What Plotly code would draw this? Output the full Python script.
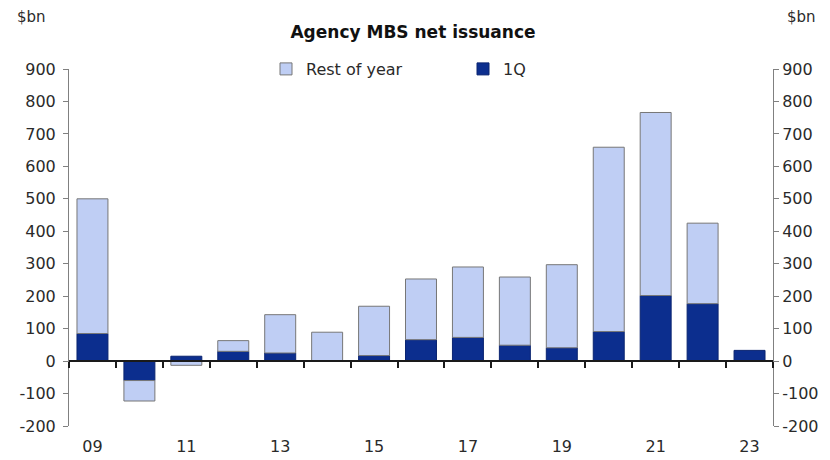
import plotly.graph_objects as go

years = ["09", "10", "11", "12", "13", "14", "15", "16", "17", "18", "19", "20", "21", "22", "23"]
q1 = [85, -60, 15, 30, 25, 0, 17, 66, 73, 49, 41, 91, 202, 177, 33]
rest = [415, -63, -13, 33, 118, 89, 152, 187, 217, 210, 256, 568, 564, 248, None]
ytick_vals = [-200, -100, 0, 100, 200, 300, 400, 500, 600, 700, 800, 900]
ytick_text = [str(v) for v in ytick_vals]
label_years = years[::2]

idx = list(range(len(years)))
y_min, y_max = -200, 900

FONT = "DejaVu Sans"
DARK = "#0C2E8E"
LIGHT = "#BFCEF4"
TXT = "#2a2a2a"

fig = go.Figure()
fig.add_trace(go.Bar(x=idx, y=q1, name="1Q", marker=dict(color=DARK, line=dict(color="#0a2470", width=1)),
                     hoverinfo="skip"))
fig.add_trace(go.Bar(x=idx, y=rest, name="Rest of year",
                     marker=dict(color=LIGHT, line=dict(color="#777777", width=1)), hoverinfo="skip"))
# helper trace to attach the zero-line axis
fig.add_trace(go.Scatter(x=idx, y=[0] * len(idx), xaxis="x2", mode="lines", line=dict(width=0),
                         opacity=0, showlegend=False, hoverinfo="skip"))
# helper trace for the right axis
fig.add_trace(go.Scatter(x=idx, y=[0] * len(idx), yaxis="y2", mode="lines", line=dict(width=0),
                         opacity=0, showlegend=False, hoverinfo="skip"))

boundaries = [i - 0.5 for i in idx] + [idx[-1] + 0.5]
xr = [idx[0] - 0.5, idx[-1] + 0.5]

fig.update_layout(
    width=830, height=460,
    margin=dict(l=69, r=57, t=69, b=34, autoexpand=False),
    paper_bgcolor="white", plot_bgcolor="white",
    barmode="relative", bargap=0.34,
    font=dict(family=FONT, size=16, color=TXT),
    title=dict(text="<b>Agency MBS net issuance</b>", x=413 / 830, xref="container", xanchor="center",
               y=1 - 32 / 460, yref="container", yanchor="middle",
               font=dict(family=FONT, size=17, color="#111111")),
    showlegend=True,
    legend=dict(orientation="h", x=(266 - 69) / 704, xanchor="left", y=1.0, yanchor="middle",
                traceorder="reversed", entrywidth=152, entrywidthmode="pixels",
                font=dict(family=FONT, size=16, color=TXT), bgcolor="rgba(0,0,0,0)"),
    xaxis=dict(range=xr, tickmode="array", tickvals=idx[::2], ticktext=label_years, automargin=False,
               showline=False, ticks="", showgrid=False, zeroline=False, ticklabelstandoff=9,
               tickfont=dict(family=FONT, size=16, color=TXT)),
    xaxis2=dict(range=xr, overlaying="x", anchor="free", position=(0 - y_min) / (y_max - y_min),
                showline=True, linecolor="#1a1a1a", linewidth=2, ticks="outside", ticklen=6,
                tickwidth=2, tickcolor="#1a1a1a", tickmode="array", tickvals=boundaries, automargin=False,
                showticklabels=False, showgrid=False, zeroline=False, layer="above traces"),
    yaxis=dict(range=[y_min, y_max], tickmode="array", tickvals=ytick_vals, ticktext=ytick_text,
               showline=True, ticklabelstandoff=4, automargin=False,
               linecolor="#808080", linewidth=1, ticks="outside", ticklen=5, tickcolor="#808080",
               showgrid=False, zeroline=False, tickfont=dict(family=FONT, size=16, color=TXT)),
    yaxis2=dict(range=[y_min, y_max], overlaying="y", side="right", tickmode="array", automargin=False,
                tickvals=ytick_vals, ticktext=ytick_text, showline=True, linecolor="#808080", linewidth=1,
                ticks="outside", ticklen=5, tickcolor="#808080", showgrid=False, zeroline=False,
                tickfont=dict(family=FONT, size=16, color=TXT)),
    annotations=[
        dict(text="$bn", xref="paper", yref="paper", x=(15 - 69) / 704, y=1 + (69 - 17) / 357,
             xanchor="left", yanchor="middle", showarrow=False, font=dict(family=FONT, size=15, color=TXT)),
        dict(text="$bn", xref="paper", yref="paper", x=(785 - 69) / 704, y=1 + (69 - 17) / 357,
             xanchor="left", yanchor="middle", showarrow=False, font=dict(family=FONT, size=15, color=TXT)),
    ],
)

fig.write_html("out.html")
